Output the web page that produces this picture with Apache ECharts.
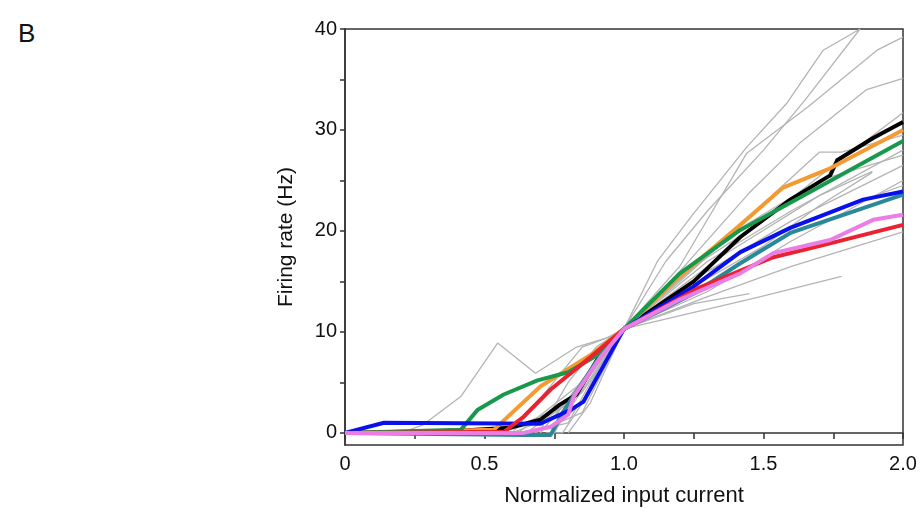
<!DOCTYPE html>
<html>
<head>
<meta charset="utf-8">
<script src="https://cdn.jsdelivr.net/npm/echarts@6/dist/echarts.min.js"></script>
<style>
  html, body { margin: 0; padding: 0; background: #fff; }
  #main { width: 922px; height: 512px; }
  #panel { position: absolute; left: 18px; top: 18px; font: 26px "Liberation Sans", Arial, sans-serif; color: #111; }
</style>
</head>
<body>
<div id="panel">B</div>
<div id="main"></div>
<script>
// tick values
var xTicks = [0, 0.25, 0.5, 0.75, 1.0, 1.25, 1.5, 1.75, 2.0];
var xLabels = [0, 0.5, 1.0, 1.5, 2.0];
var yTicks = [0, 5, 10, 15, 20, 25, 30, 35, 40];
var yLabels = [0, 10, 20, 30, 40];

// individual cells, grey traces  [current, rate]
var grey1 = [[0.2,0],[0.28,0.8],[0.415,3.6],[0.547,8.9],[0.683,5.9],[0.83,8.5],[0.95,9.5],[1.0,10.3],[1.2,16.5],[1.44,27.7],[1.66,32.3],[1.907,37.9],[2.0,39.2]];
var grey2 = [[0.6,0],[0.75,0.5],[0.85,3],[0.92,7],[1.0,10.3],[1.12,17],[1.24,21.4],[1.44,28.3],[1.585,32.7],[1.714,37.9],[1.846,40]];
var grey3 = [[0.65,0],[0.8,1],[0.9,6],[1.0,10.3],[1.15,17],[1.3,22],[1.5,28],[1.65,33],[1.846,40]];
var grey4 = [[0.6,0],[0.78,2],[0.9,6.5],[1.0,10.3],[1.2,16],[1.45,23.8],[1.63,28.7],[1.87,34],[2.0,35.1]];
var grey5 = [[0.65,0],[0.85,4],[1.0,10.3],[1.25,16.5],[1.5,21],[1.75,26.5],[2.0,31.7]];
var grey6 = [[0.7,0],[0.85,5],[1.0,10.3],[1.2,15],[1.4,20],[1.55,24],[1.7,27.8],[1.78,27.8],[2.0,29.5]];
var grey7 = [[0.7,0],[0.88,6],[1.0,10.3],[1.3,17],[1.6,22],[2.0,28]];
var grey8 = [[0.62,0],[0.85,5],[1.0,10.3],[1.3,16],[1.6,21],[2.0,26.5]];
var grey9 = [[0.6,0.5],[0.82,3],[1.0,10.3],[1.25,14.5],[1.5,18.5],[1.7,22.5],[1.89,25.8]];
var grey10 = [[0.75,0],[0.9,7],[1.0,10.3],[1.3,14],[1.6,19],[2.0,25]];
var grey11 = [[0.68,0],[0.85,2],[1.0,10.3],[1.3,13.5],[1.6,16.5],[2.0,19.9]];
var grey12 = [[0.8,0],[0.88,3],[1.0,10.3],[1.49,13.5],[1.78,15.5]];
var grey13 = [[0.55,0],[0.75,1.5],[0.87,6],[1.0,10.3],[1.25,12.8],[1.45,13.8]];
var grey14 = [[0.7,0.3],[0.8,5],[0.9,8.5],[1.0,10.3],[1.3,16],[1.6,20.5],[2.0,24.5]];
var grey15 = [[0.6,0],[0.85,8.5],[0.93,9.3],[1.0,10.3],[1.4,20],[1.7,25],[2.0,27.5]];
var grey16 = [[0.72,0],[0.78,0],[0.84,2.5],[1.0,10.3],[1.35,17.5],[1.7,23.5],[1.89,25.9]];
var greyTraces = [grey1, grey2, grey3, grey4, grey5, grey6, grey7, grey8, grey9, grey10,
                  grey11, grey12, grey13, grey14, grey15, grey16];

// highlighted cells
var blackTrace = [[0,0],[0.41,0.2],[0.59,0.5],[0.70,1.3],[0.77,2.8],[0.83,3.8],[0.92,8],[1.0,10.3],[1.25,15],[1.417,19.4],[1.596,23.1],[1.739,25.5],[1.764,27.0],[1.893,29.2],[2.0,30.8]];
var orangeTrace = [[0,0],[0.533,0.3],[0.70,4.6],[0.89,7.9],[1.0,10.3],[1.2,15.5],[1.417,20.6],[1.57,24.3],[1.739,26.2],[2.0,30.0]];
var greenTrace = [[0,0],[0.415,0.3],[0.476,2.3],[0.569,3.8],[0.69,5.2],[0.80,6.0],[0.905,7.7],[1.0,10.3],[1.2,15.8],[1.417,20.1],[1.596,22.8],[2.0,28.9]];
var tealTrace = [[0,0],[0.64,-0.2],[0.737,-0.2],[0.78,2.0],[0.905,7.2],[1.0,10.3],[1.25,13.8],[1.417,16.8],[1.596,19.8],[2.0,23.6]];
var blueTrace = [[0,0],[0.14,1.0],[0.70,0.9],[0.81,2.3],[0.855,3.1],[1.0,10.3],[1.25,14.5],[1.417,17.9],[1.596,20.3],[1.857,23.1],[2.0,23.9]];
var redTrace = [[0,0],[0.57,0.1],[0.64,1.6],[0.737,4.3],[0.88,7.5],[1.0,10.3],[1.27,14.4],[1.535,17.4],[1.714,18.6],[2.0,20.6]];
var pinkTrace = [[0,0],[0.64,0],[0.737,0.6],[0.80,1.8],[0.82,3.6],[0.916,7.5],[1.0,10.3],[1.2,13.2],[1.417,15.8],[1.535,17.8],[1.739,19.1],[1.893,21.1],[2.0,21.6]];

var colorTraces = [
  { data: blackTrace, color: '#000000' },
  { data: orangeTrace, color: '#f49a32' },
  { data: greenTrace, color: '#17984a' },
  { data: tealTrace, color: '#2b8898' },
  { data: blueTrace, color: '#0a10ec' },
  { data: redTrace, color: '#ea2230' },
  { data: pinkTrace, color: '#ea7ee4' }
];

var chart = echarts.init(document.getElementById('main'));

var series = [];
greyTraces.forEach(function (d) {
  series.push({
    type: 'line', data: d, symbol: 'none', silent: true,
    lineStyle: { color: '#b4b4b4', width: 1.3 }
  });
});
colorTraces.forEach(function (t) {
  series.push({
    type: 'line', data: t.data, symbol: 'none', silent: true,
    lineStyle: { color: t.color, width: 4, join: 'round' }
  });
});

var font = '"Liberation Sans", Arial, sans-serif';

option = {
  animation: false,
  grid: {
    left: 345, right: 19, top: 29, bottom: 67,
    outerBoundsMode: 'none',
    show: true, borderColor: '#333', borderWidth: 1.5
  },
  xAxis: {
    type: 'value', min: 0, max: 2,
    name: 'Normalized input current',
    nameLocation: 'middle', nameGap: 40,
    nameTextStyle: { fontFamily: font, fontSize: 22, color: '#111' },
    axisLine: { lineStyle: { color: '#333', width: 1.5 } },
    axisTick: { length: 6, customValues: xTicks, lineStyle: { color: '#333', width: 1.5 } },
    axisLabel: {
      customValues: xLabels, margin: 9,
      fontFamily: font, fontSize: 20, color: '#111',
      formatter: function (v) { return v === 0 ? '0' : v.toFixed(1); }
    },
    splitLine: { show: false }
  },
  yAxis: {
    type: 'value', min: -1.2, max: 40,
    name: 'Firing rate (Hz)',
    nameLocation: 'middle', nameGap: 48,
    nameTextStyle: { fontFamily: font, fontSize: 21, color: '#111' },
    axisLine: { lineStyle: { color: '#333', width: 1.5 } },
    axisTick: { length: 5, customValues: yTicks, lineStyle: { color: '#333', width: 1.5 } },
    axisLabel: {
      customValues: yLabels, margin: 8,
      fontFamily: font, fontSize: 20, color: '#111'
    },
    splitLine: { show: false }
  },
  series: series
};

chart.setOption(option);
</script>
</body>
</html>
